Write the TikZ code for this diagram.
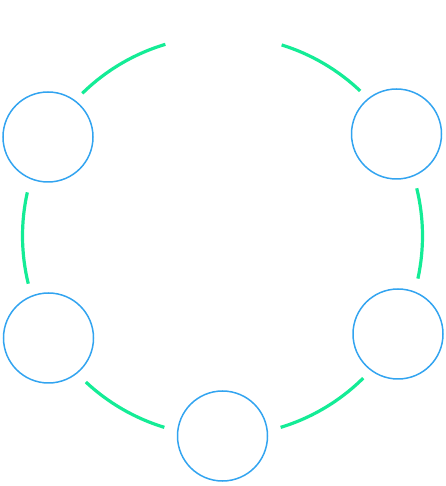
\documentclass[tikz,border=0pt]{standalone}
\usepackage{xcolor}
\usepackage{tikz}
\usetikzlibrary{positioning}
\definecolor{ringgreen}{RGB}{20,236,150}
\definecolor{hubblue}{RGB}{50,164,240}

\begin{document}
\begin{tikzpicture}[
  x=1pt, y=1pt,
  hub/.style={circle, draw=hubblue, line width=1.5pt, fill=white,
              minimum size=90pt, inner sep=0pt},
  ring/.style={draw=ringgreen, line width=3.2pt}
]
\useasboundingbox (0,0) rectangle (445,486);

% Ring centre
\coordinate (mid) at (222.5,250);

% Green ring segments
\foreach \a/\b in {134.5/106.6, 72.8/46.5, 13.8/-12.3, 167.4/193.8,
                   226.9/253.1, 286.9/314.7}
  \draw[ring] (mid) ++(\a:200) arc[start angle=\a, end angle=\b, radius=200];

% Blue hubs
\node[hub] (hub_tl) at (48,349)    {};
\node[hub] (hub_tr) at (396.5,352) {};
\node[hub] (hub_bl) at (48.5,148)  {};
\node[hub] (hub_br) at (398,152)   {};
\node[hub] (hub_b)  at (222.5,50)  {};

\end{tikzpicture}
\end{document}
